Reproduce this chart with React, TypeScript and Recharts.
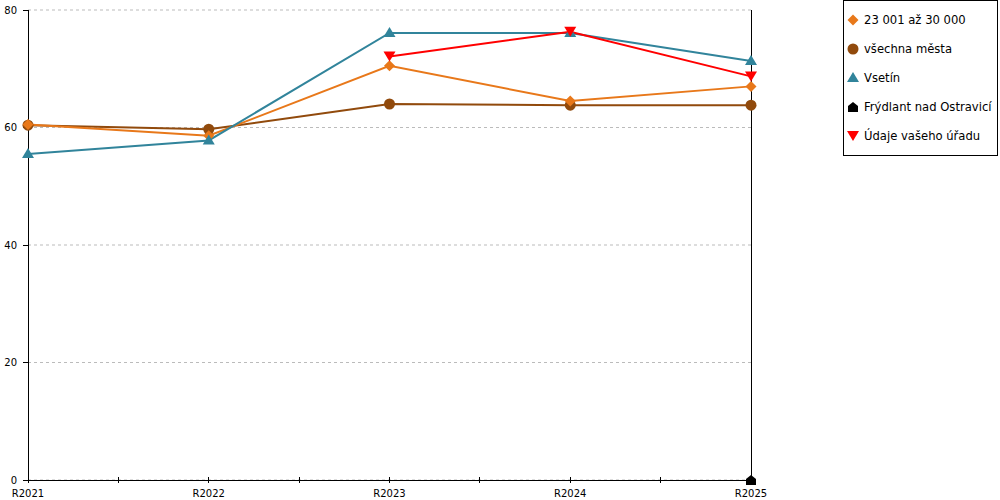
import React from "react";
import {
  CartesianGrid,
  Line,
  LineChart,
  ReferenceLine,
  XAxis,
  YAxis,
} from "recharts";

const categories = ["R2021", "R2022", "R2023", "R2024", "R2025"];
const sizeGroup = [60.5, 58.6, 70.5, 64.5, 67.0];
const allCities = [60.4, 59.7, 64.0, 63.8, 63.8];
const vsetin = [55.5, 57.8, 76.1, 76.1, 71.3];
const frydlant = [null, null, null, null, 0];
const yourOffice = [null, null, 72.1, 76.3, 68.7];
const yTicks = [0, 20, 40, 60, 80];
const xTicks = [0, 0.5, 1, 1.5, 2, 2.5, 3, 3.5, 4];

const COLORS = {
  sizeGroup: "#E8781A",
  allCities: "#914A0C",
  vsetin: "#31849B",
  frydlant: "#000000",
  yourOffice: "#FF0000",
};

const FONT = "'DejaVu Sans', Verdana, sans-serif";

const data = categories.map((name, i) => ({
  idx: i,
  name,
  sizeGroup: sizeGroup[i],
  allCities: allCities[i],
  vsetin: vsetin[i],
  frydlant: frydlant[i],
  yourOffice: yourOffice[i],
}));

type Shape = "diamond" | "circle" | "triangle" | "house" | "down";

const marker = (shape: Shape, cx: number, cy: number, fill: string, key?: string) => {
  switch (shape) {
    case "diamond":
      return (
        <path key={key} d={`M${cx},${cy - 5.5}L${cx + 5.5},${cy}L${cx},${cy + 5.5}L${cx - 5.5},${cy}Z`} fill={fill} />
      );
    case "circle":
      return <circle key={key} cx={cx} cy={cy} r={5.5} fill={fill} />;
    case "triangle":
      return (
        <path key={key} d={`M${cx},${cy - 6}L${cx + 6},${cy + 4}L${cx - 6},${cy + 4}Z`} fill={fill} />
      );
    case "down":
      return (
        <path key={key} d={`M${cx - 6},${cy - 5}L${cx + 6},${cy - 5}L${cx},${cy + 5}Z`} fill={fill} />
      );
    case "house":
      return (
        <path
          key={key}
          d={`M${cx},${cy - 5}L${cx + 5},${cy - 1}L${cx + 5},${cy + 5}L${cx - 5},${cy + 5}L${cx - 5},${cy - 1}Z`}
          fill={fill}
        />
      );
  }
};

const dotFor = (shape: Shape, fill: string) => (props: any) => {
  const { cx, cy, index } = props;
  if (cx == null || cy == null || props.value == null) return <g key={`e-${index}`} />;
  return marker(shape, cx, cy, fill, `${shape}-${index}`);
};

const XTick = (props: any) => {
  const { x, y, payload } = props;
  const v = payload.value;
  const isCat = Number.isInteger(v);
  return (
    <g>
      <line x1={x} x2={x} y1={y - 3} y2={y + 3} stroke="#000" shapeRendering="crispEdges" />
      {isCat && (
        <text x={x} y={y + 17} textAnchor="middle" fontSize={10} fontFamily={FONT} fill="#000">
          {categories[v]}
        </text>
      )}
    </g>
  );
};

const legendItems: { label: string; shape: Shape; color: string }[] = [
  { label: "23 001 až 30 000", shape: "diamond", color: COLORS.sizeGroup },
  { label: "všechna města", shape: "circle", color: COLORS.allCities },
  { label: "Vsetín", shape: "triangle", color: COLORS.vsetin },
  { label: "Frýdlant nad Ostravicí", shape: "house", color: COLORS.frydlant },
  { label: "Údaje vašeho úřadu", shape: "down", color: COLORS.yourOffice },
];

const App = () => {
  return (
    <div style={{ position: "absolute", left: 0, top: 0, width: 1000, height: 500 }}>
      <LineChart
        width={1000}
        height={500}
        data={data}
        margin={{ top: 10, right: 249, left: 0, bottom: 0 }}
      >
        <CartesianGrid vertical={false} stroke="#bbbbbb" strokeDasharray="3 3" />
        <XAxis
          dataKey="idx"
          type="number"
          domain={[0, 4]}
          ticks={xTicks}
          interval={0}
          height={20}
          tickSize={0}
          tickMargin={0}
          tickLine={false}
          axisLine={{ stroke: "#000", shapeRendering: "crispEdges" }}
          tick={<XTick />}
        />
        <YAxis
          domain={[0, 80]}
          ticks={yTicks}
          width={28}
          tickSize={5}
          tickMargin={6}
          axisLine={{ stroke: "#000", shapeRendering: "crispEdges" }}
          tickLine={{ stroke: "#000", shapeRendering: "crispEdges" }}
          tick={{ fontSize: 10, fontFamily: FONT, fill: "#000" }}
        />
        <ReferenceLine x={4} stroke="#000" shapeRendering="crispEdges" />
        <Line
          dataKey="allCities"
          stroke={COLORS.allCities}
          strokeWidth={2}
          dot={dotFor("circle", COLORS.allCities)}
          activeDot={false}
          isAnimationActive={false}
        />
        <Line
          dataKey="sizeGroup"
          stroke={COLORS.sizeGroup}
          strokeWidth={2}
          dot={dotFor("diamond", COLORS.sizeGroup)}
          activeDot={false}
          isAnimationActive={false}
        />
        <Line
          dataKey="vsetin"
          stroke={COLORS.vsetin}
          strokeWidth={2}
          dot={dotFor("triangle", COLORS.vsetin)}
          activeDot={false}
          isAnimationActive={false}
        />
        <Line
          dataKey="frydlant"
          stroke={COLORS.frydlant}
          strokeWidth={2}
          dot={dotFor("house", COLORS.frydlant)}
          activeDot={false}
          isAnimationActive={false}
        />
        <Line
          dataKey="yourOffice"
          stroke={COLORS.yourOffice}
          strokeWidth={2}
          dot={dotFor("down", COLORS.yourOffice)}
          activeDot={false}
          isAnimationActive={false}
        />
      </LineChart>
      {/* legend box */}
      <div
        style={{
          position: "absolute",
          left: 843,
          top: 0,
          width: 155,
          height: 156,
          border: "1px solid #000",
          boxSizing: "border-box",
          background: "#fff",
        }}
      >
        <svg width={153} height={154} style={{ display: "block" }}>
          {legendItems.map((it, i) => (
            <g key={it.label}>
              {marker(it.shape, 9, 19 + i * 29, it.color)}
              <text
                x={20}
                y={19 + i * 29}
                dominantBaseline="central"
                fontSize={11.6}
                fontFamily={FONT}
                fill="#000"
              >
                {it.label}
              </text>
            </g>
          ))}
        </svg>
      </div>
    </div>
  );
};

export default App;
